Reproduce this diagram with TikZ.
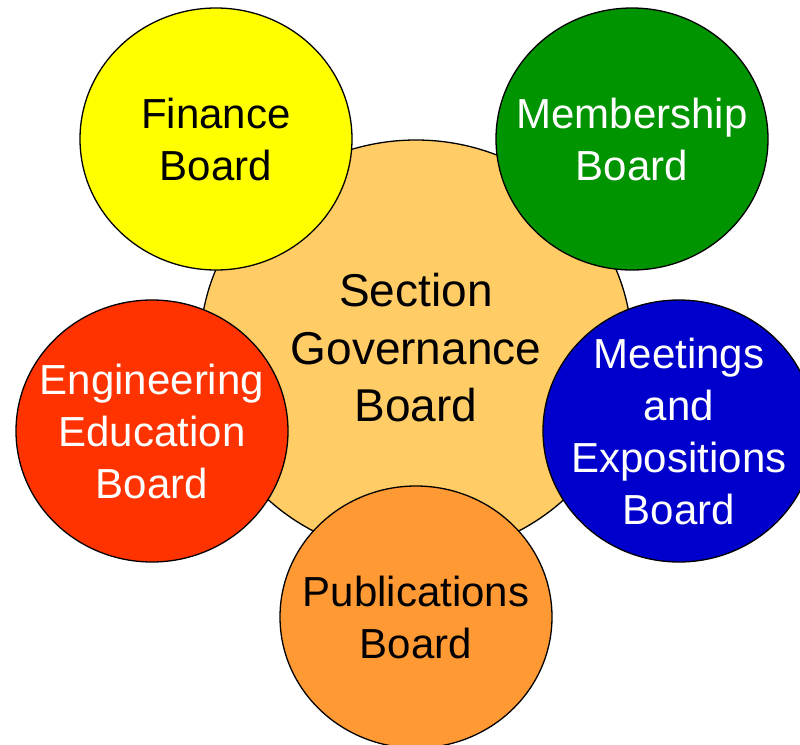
\documentclass[tikz,border=0pt]{standalone}
\usepackage{fontspec}
\setmainfont{Liberation Sans}
\usetikzlibrary{shapes.geometric}
\definecolor{govfill}{HTML}{FFCC66}
\definecolor{finfill}{HTML}{FFFF00}
\definecolor{memfill}{HTML}{009400}
\definecolor{meetfill}{HTML}{0000CC}
\definecolor{engfill}{HTML}{FF3300}
\definecolor{pubfill}{HTML}{FF9933}
\begin{document}
\begin{tikzpicture}[x=1pt,y=-1pt,
	board/.style={ellipse,draw=black,line width=1.3pt,inner sep=0pt,
		minimum width=272pt,minimum height=262pt},
	boardtext/.style={align=center,inner sep=0pt,font=\fontsize{42}{52}\selectfont}]
		\clip (0,0) rectangle (800,744);
		\node[board,fill=govfill,minimum width=432pt,minimum height=416pt,
			label={[boardtext,font=\fontsize{46}{57.5}\selectfont]center:Section\\Governance\\Board}] (gov) at (416,348) {};
		\node[board,fill=finfill,label={[boardtext]center:Finance\\Board}] (fin) at (216,139) {};
		\node[board,fill=memfill,label={[boardtext,text=white]center:Membership\\Board}] (mem) at (632,139) {};
		\node[board,fill=meetfill,label={[boardtext,text=white]center:Meetings\\and\\Expositions\\Board}] (meet) at (679,431) {};
		\node[board,fill=engfill,label={[boardtext,text=white]center:Engineering\\Education\\Board}] (eng) at (152,431) {};
		\node[board,fill=pubfill,label={[boardtext]center:Publications\\Board}] (pub) at (416,617) {};
	    \end{tikzpicture}
\end{document}
